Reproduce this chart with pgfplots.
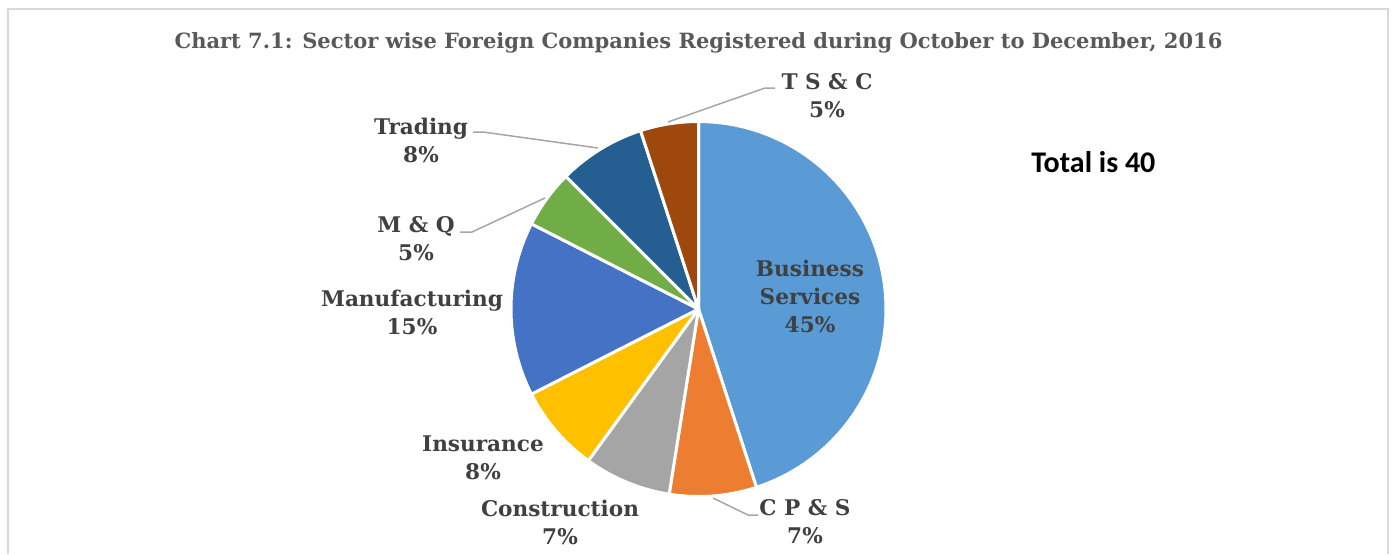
\documentclass[border=0pt]{standalone}
\usepackage{pgfplots}
\pgfplotsset{compat=1.18}
\usepackage{fontspec}
\setmainfont{DejaVu Serif}
\newfontfamily\carlito{Carlito}
\definecolor{cBS}{HTML}{5B9BD5}
\definecolor{cCPS}{HTML}{ED7D31}
\definecolor{cCon}{HTML}{A5A5A5}
\definecolor{cIns}{HTML}{FFC000}
\definecolor{cMan}{HTML}{4472C4}
\definecolor{cMQ}{HTML}{70AD47}
\definecolor{cTra}{HTML}{255E91}
\definecolor{cTSC}{HTML}{9E480E}
\definecolor{titlegrey}{HTML}{595959}
\definecolor{labgrey}{HTML}{404040}
\definecolor{leader}{HTML}{A6A6A6}
\definecolor{frame}{HTML}{D9D9D9}
% counts of companies (total 40)
\def\nBS{18}\def\nCPS{3}\def\nCon{3}\def\nIns{3}\def\nMan{6}\def\nMQ{2}\def\nTra{3}\def\nTSC{2}
\def\ntot{40}
\pgfmathsetmacro\aA{90}
\pgfmathsetmacro\aB{\aA-360*\nBS/\ntot}
\pgfmathsetmacro\aC{\aB-360*\nCPS/\ntot}
\pgfmathsetmacro\aD{\aC-360*\nCon/\ntot}
\pgfmathsetmacro\aE{\aD-360*\nIns/\ntot}
\pgfmathsetmacro\aF{\aE-360*\nMan/\ntot}
\pgfmathsetmacro\aG{\aF-360*\nMQ/\ntot}
\pgfmathsetmacro\aH{\aG-360*\nTra/\ntot}
\pgfmathsetmacro\aI{\aH-360*\nTSC/\ntot}
\def\cx{698.5}\def\cy{245}\def\rr{187.5}
\begin{document}
\begin{tikzpicture}
\useasboundingbox (0,0) rectangle (696pt,277pt);
\begin{axis}[at={(0,0)}, anchor=south west, scale only axis, width=696pt, height=277pt,
  xmin=0, xmax=1392, ymin=0, ymax=554, hide axis, clip=false]
% frame
\addplot[draw=frame, line width=1pt] coordinates {(8,0) (8,545) (1388,545) (1388,0)};
% slices
\pgfplotsset{slice/.style={draw=white, line width=1.5pt, samples=60, line join=round}}
\addplot[slice, fill=cBS, domain=\aB:\aA] ({\cx+\rr*cos(x)},{\cy+\rr*sin(x)}) -- (\cx,\cy) -- cycle;
\addplot[slice, fill=cCPS, domain=\aC:\aB] ({\cx+\rr*cos(x)},{\cy+\rr*sin(x)}) -- (\cx,\cy) -- cycle;
\addplot[slice, fill=cCon, domain=\aD:\aC] ({\cx+\rr*cos(x)},{\cy+\rr*sin(x)}) -- (\cx,\cy) -- cycle;
\addplot[slice, fill=cIns, domain=\aE:\aD] ({\cx+\rr*cos(x)},{\cy+\rr*sin(x)}) -- (\cx,\cy) -- cycle;
\addplot[slice, fill=cMan, domain=\aF:\aE] ({\cx+\rr*cos(x)},{\cy+\rr*sin(x)}) -- (\cx,\cy) -- cycle;
\addplot[slice, fill=cMQ, domain=\aG:\aF] ({\cx+\rr*cos(x)},{\cy+\rr*sin(x)}) -- (\cx,\cy) -- cycle;
\addplot[slice, fill=cTra, domain=\aH:\aG] ({\cx+\rr*cos(x)},{\cy+\rr*sin(x)}) -- (\cx,\cy) -- cycle;
\addplot[slice, fill=cTSC, domain=\aI:\aH] ({\cx+\rr*cos(x)},{\cy+\rr*sin(x)}) -- (\cx,\cy) -- cycle;
% leader lines
\addplot[draw=leader, line width=0.75pt] coordinates {(775,466) (765,466) (668,432)};
\addplot[draw=leader, line width=0.75pt] coordinates {(473,422) (483,422) (598,406)};
\addplot[draw=leader, line width=0.75pt] coordinates {(460,322) (472,322) (545,356)};
\addplot[draw=leader, line width=0.75pt] coordinates {(713,56) (748,39) (758,39)};
% labels
\tikzset{lab/.style={align=center, text=labgrey, font=\fontsize{10.8pt}{14pt}\selectfont\bfseries, inner sep=0pt}}
\node[lab] at (827,458) {T S \& C\\5\%};
\node[lab] at (421,413.5) {Trading\\8\%};
\node[lab] at (416,315) {M \& Q\\5\%};
\node[lab] at (412,242) {Manufacturing\\15\%};
\node[lab] at (483,96) {Insurance\\8\%};
\node[lab] at (560,32) {Construction\\7\%};
\node[lab] at (805,32) {C P \& S\\7\%};
\node[lab] at (810,258) {Business\\Services\\45\%};
% title
\node[text=titlegrey, font=\fontsize{10.5pt}{12pt}\selectfont\bfseries, inner sep=0pt] at (698.5,511) {Chart 7.1: Sector wise Foreign Companies Registered during October to December, 2016};
\node[anchor=west, inner sep=0pt, font=\carlito\fontsize{15pt}{17pt}\selectfont\bfseries] at (1031,392) {Total is 40};
\end{axis}
\end{tikzpicture}
\end{document}
